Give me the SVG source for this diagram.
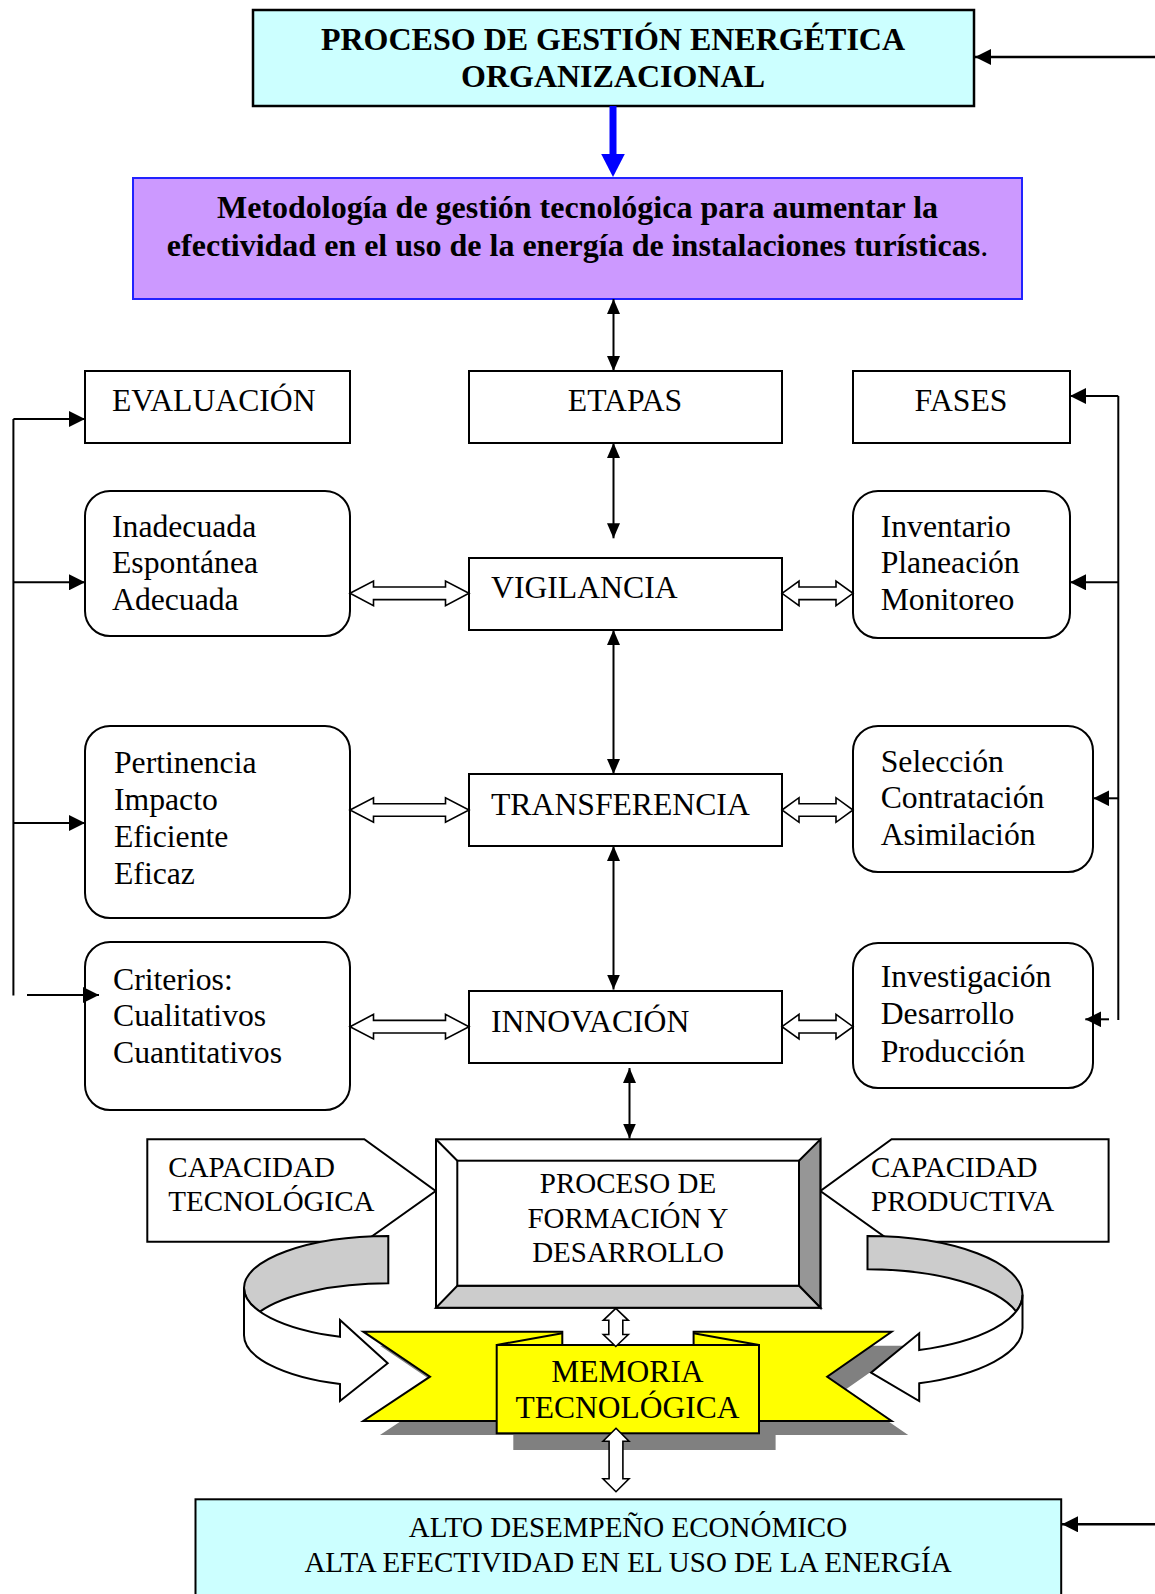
<svg xmlns="http://www.w3.org/2000/svg" xmlns:xlink="http://www.w3.org/1999/xlink" width="1155" height="1594" viewBox="0 0 1155 1594">
<style>
.t{font-family:"Liberation Serif","Times New Roman",serif;fill:#000}
.r{font-size:31.7px}
.b{font-size:32px;font-weight:bold}
.s{font-size:29px}
.box{fill:#fff;stroke:#000;stroke-width:2}
.ln{stroke:#000;stroke-width:2;fill:none}
.hol{fill:#fff;stroke:#000;stroke-width:1.6;stroke-linejoin:miter}
.yel{fill:#FFFF00;stroke:#000;stroke-width:2;stroke-linejoin:miter}
.shd{fill:#808080}
</style>
<defs>
<marker id="ah" viewBox="0 0 16 16" refX="16" refY="8" markerWidth="16" markerHeight="16" markerUnits="userSpaceOnUse" orient="auto-start-reverse"><path d="M0,0 L16,8 L0,16 Z" fill="#000"/></marker>
<marker id="av" viewBox="0 0 15 13" refX="15" refY="6.5" markerWidth="15" markerHeight="13" markerUnits="userSpaceOnUse" orient="auto-start-reverse"><path d="M0,0 L15,6.5 L0,13 Z" fill="#000"/></marker>
<path id="dblL" class="hol" d="M350,0 L373.5,-12.3 L373.5,-6.3 L445.5,-6.3 L445.5,-12.3 L469,0 L445.5,12.3 L445.5,6.3 L373.5,6.3 L373.5,12.3 Z"/>
<path id="dblR" class="hol" d="M782,0 L799,-12.3 L799,-6.3 L836,-6.3 L836,-12.3 L853,0 L836,12.3 L836,6.3 L799,6.3 L799,12.3 Z"/>
</defs>
<rect width="1155" height="1594" fill="#fff"/>

<g id="top-box">
<rect x="253" y="10" width="721" height="96" fill="#CCFFFF" stroke="#000" stroke-width="2.5"/>
<text class="t b" x="613" y="50" text-anchor="middle">PROCESO DE GESTIÓN ENERGÉTICA</text>
<text class="t b" x="613" y="87" text-anchor="middle">ORGANIZACIONAL</text>
</g>

<g id="metodologia">
<rect x="133" y="178" width="889" height="121" fill="#CC99FF" stroke="#2222FF" stroke-width="2"/>
<text class="t b" x="577.5" y="218" text-anchor="middle">Metodología de gestión tecnológica para aumentar la</text>
<text class="t b" x="577.5" y="256" text-anchor="middle">efectividad en el uso de la energía de instalaciones turísticas<tspan font-weight="normal">.</tspan></text>
</g>

<g id="evaluacion"><rect class="box" x="85" y="371" width="265" height="72"/><text class="t r" x="112" y="410.7">EVALUACIÓN</text></g>
<g id="etapas"><rect class="box" x="469" y="371" width="313" height="72"/><text class="t r" x="625" y="410.7" text-anchor="middle">ETAPAS</text></g>
<g id="fases"><rect class="box" x="853" y="371" width="217" height="72"/><text class="t r" x="961" y="410.7" text-anchor="middle">FASES</text></g>

<g id="vigilancia"><rect class="box" x="469" y="558" width="313" height="72"/><text class="t r" x="491" y="598.3">VIGILANCIA</text></g>
<g id="transferencia"><rect class="box" x="469" y="774" width="313" height="72"/><text class="t r" x="491" y="815">TRANSFERENCIA</text></g>
<g id="innovacion"><rect class="box" x="469" y="991" width="313" height="72"/><text class="t r" x="491" y="1031.7">INNOVACIÓN</text></g>

<g id="eval-vigilancia"><rect class="box" x="85" y="491" width="265" height="145" rx="25"/>
<text class="t r" x="112" y="536.7">Inadecuada</text><text class="t r" x="112" y="573">Espontánea</text><text class="t r" x="112" y="610">Adecuada</text></g>
<g id="fase-vigilancia"><rect class="box" x="853" y="491" width="217" height="147" rx="25"/>
<text class="t r" x="880.7" y="536.7">Inventario</text><text class="t r" x="880.7" y="573.3">Planeación</text><text class="t r" x="880.7" y="610">Monitoreo</text></g>
<g id="eval-transferencia"><rect class="box" x="85" y="726" width="265" height="192" rx="25"/>
<text class="t r" x="114" y="772.7">Pertinencia</text><text class="t r" x="114" y="810">Impacto</text><text class="t r" x="114" y="846.7">Eficiente</text><text class="t r" x="114" y="884">Eficaz</text></g>
<g id="fase-transferencia"><rect class="box" x="853" y="726" width="240" height="146" rx="25"/>
<text class="t r" x="880.7" y="771.7">Selección</text><text class="t r" x="880.7" y="808.3">Contratación</text><text class="t r" x="880.7" y="845">Asimilación</text></g>
<g id="eval-innovacion"><rect class="box" x="85" y="942" width="265" height="168" rx="25"/>
<text class="t r" x="113" y="990">Criterios:</text><text class="t r" x="113" y="1026">Cualitativos</text><text class="t r" x="113" y="1063.3">Cuantitativos</text></g>
<g id="fase-innovacion"><rect class="box" x="853" y="943" width="240" height="145" rx="25"/>
<text class="t r" x="880.7" y="987.3">Investigación</text><text class="t r" x="880.7" y="1024">Desarrollo</text><text class="t r" x="880.7" y="1062.3">Producción</text></g>

<g id="capacidad-tecnologica">
<polygon class="box" points="147.3,1139.3 364.3,1139.3 435.7,1191 364.3,1241.7 147.3,1241.7"/>
<text class="t s" x="168.3" y="1176.7">CAPACIDAD</text><text class="t s" x="168.3" y="1211">TECNOLÓGICA</text>
</g>
<g id="capacidad-productiva">
<polygon class="box" points="1108.6,1139.3 891.6,1139.3 820.4,1191 891.6,1241.7 1108.6,1241.7"/>
<text class="t s" x="871" y="1176.7">CAPACIDAD</text><text class="t s" x="871" y="1211">PRODUCTIVA</text>
</g>

<g id="proceso-formacion" stroke="#000" stroke-width="2" stroke-linejoin="miter">
<rect x="436" y="1139.3" width="384.4" height="168.4" fill="#fff"/>
<polygon points="820.4,1139.3 820.4,1307.7 799,1285.7 799,1160.7" fill="#969696"/>
<polygon points="436,1307.7 820.4,1307.7 799,1285.7 457.3,1285.7" fill="#CCCCCC"/>
<line x1="436" y1="1139.3" x2="457.3" y2="1160.7"/>
<rect x="457.3" y="1160.7" width="341.7" height="125" fill="#fff"/>
<text class="t s" x="628" y="1193.3" text-anchor="middle" stroke="none">PROCESO DE</text>
<text class="t s" x="628" y="1227.7" text-anchor="middle" stroke="none">FORMACIÓN Y</text>
<text class="t s" x="628" y="1261.7" text-anchor="middle" stroke="none">DESARROLLO</text>
</g>

<g id="memoria-tecnologica">
<polygon class="shd" points="380,1345.7 579,1345.7 579,1435 380,1435 446.6,1390.7"/>
<polygon class="shd" points="710.2,1345.7 908.2,1345.7 843.8,1390.7 908.2,1435 710.2,1435"/>
<rect class="shd" x="513.3" y="1361" width="262.3" height="89"/>
<polygon class="yel" points="363.3,1331.7 562.3,1331.7 562.3,1421 363.3,1421 430,1376.7"/>
<polygon class="yel" points="693.6,1331.7 891.6,1331.7 827.2,1376.7 891.6,1421 693.6,1421"/>
<rect class="yel" x="496.7" y="1345" width="262.3" height="88.3"/>
<line class="ln" x1="496.7" y1="1345" x2="562.3" y2="1333.2"/>
<line class="ln" x1="693.6" y1="1333.2" x2="759" y2="1345"/>
<text class="t" font-size="31.5" x="627.5" y="1381.7" text-anchor="middle">MEMORIA</text>
<text class="t" font-size="31.5" x="627.5" y="1417.7" text-anchor="middle">TECNOLÓGICA</text>
</g>

<g id="bottom-box">
<rect x="195.5" y="1499.3" width="865.7" height="120" fill="#CCFFFF" stroke="#000" stroke-width="2"/>
<text class="t s" x="628" y="1536.7" text-anchor="middle">ALTO DESEMPEÑO ECONÓMICO</text>
<text class="t s" x="628" y="1571.7" text-anchor="middle">ALTA EFECTIVIDAD EN EL USO DE LA ENERGÍA</text>
</g>

<g id="connectors">
<line x1="1155" y1="57" x2="975" y2="57" stroke="#000" stroke-width="2.5" marker-end="url(#ah)"/>
<line x1="613" y1="106" x2="613" y2="156" stroke="#0000FF" stroke-width="7"/>
<polygon points="601.2,154 624.8,154 613,177" fill="#0000FF"/>
<line class="ln" x1="613.5" y1="299" x2="613.5" y2="371" marker-start="url(#av)" marker-end="url(#av)"/>
<line class="ln" x1="613.5" y1="443" x2="613.5" y2="538.3" marker-start="url(#av)" marker-end="url(#av)"/>
<line class="ln" x1="613.5" y1="630" x2="613.5" y2="774" marker-start="url(#av)" marker-end="url(#av)"/>
<line class="ln" x1="613.5" y1="846" x2="613.5" y2="989.5" marker-start="url(#av)" marker-end="url(#av)"/>
<line class="ln" x1="629.5" y1="1068" x2="629.5" y2="1138.5" marker-start="url(#av)" marker-end="url(#av)"/>
<use xlink:href="#dblL" y="593.3"/>
<use xlink:href="#dblL" y="810"/>
<use xlink:href="#dblL" y="1026.7"/>
<use xlink:href="#dblR" y="593.3"/>
<use xlink:href="#dblR" y="810"/>
<use xlink:href="#dblR" y="1026.7"/>
<path class="ln" d="M13.4,419 V995.6"/>
<path class="ln" d="M13.4,419 H85" marker-end="url(#ah)"/>
<path class="ln" d="M13.4,582.3 H85" marker-end="url(#ah)"/>
<path class="ln" d="M13.4,823 H85" marker-end="url(#ah)"/>
<path class="ln" d="M27,995 H99" marker-end="url(#ah)"/>
<path class="ln" d="M1118.3,396 V1020"/>
<path class="ln" d="M1118.3,396 H1070" marker-end="url(#ah)"/>
<path class="ln" d="M1118.3,582.3 H1070" marker-end="url(#ah)"/>
<path class="ln" d="M1118.3,798.3 H1093.4" marker-end="url(#ah)"/>
<path class="ln" d="M1109,1019.3 H1085.3" marker-end="url(#ah)"/>
<path d="M388.3,1236 A144.3 51.9 0 0 0 244,1287.9 A144.3 51.9 0 0 0 259.9,1311.6 A144.3 51.9 0 0 1 388.3,1283.3 Z" fill="#CCCCCC" stroke="#000" stroke-width="2"/>
<path d="M244,1287.9 A144.3 51.9 0 0 0 340,1336.8 L340,1320 L387.7,1363.3 L340,1401 L340,1384.1 A144.3 51.9 0 0 1 244,1335.2 Z" fill="#fff" stroke="#000" stroke-width="2"/>
<path d="M867.5,1236 A155 58.7 0 0 1 1022.5,1294.7 A155 58.7 0 0 1 1016.1,1311.4 A155 58.7 0 0 0 867.5,1269.3 Z" fill="#CCCCCC" stroke="#000" stroke-width="2"/>
<path d="M1022.5,1294.7 A155 58.7 0 0 1 919.2,1350 L919.2,1333.3 L871,1372.7 L919.2,1401 L919.2,1383.3 A155 58.7 0 0 0 1022.5,1328 Z" fill="#fff" stroke="#000" stroke-width="2"/>
<path class="hol" d="M615.8,1308.3 L628.3,1320.3 L622.8,1320.3 L622.8,1334.5 L628.3,1334.5 L615.8,1346.5 L603.3,1334.5 L608.8,1334.5 L608.8,1320.3 L603.3,1320.3 Z"/>
<path class="hol" d="M616,1428.3 L629,1441.3 L622.9,1441.3 L622.9,1478.7 L629,1478.7 L616,1491.7 L603,1478.7 L609.1,1478.7 L609.1,1441.3 L603,1441.3 Z"/>
<line x1="1155" y1="1524.3" x2="1062" y2="1524.3" stroke="#000" stroke-width="2.5" marker-end="url(#ah)"/>
</g>
</svg>
